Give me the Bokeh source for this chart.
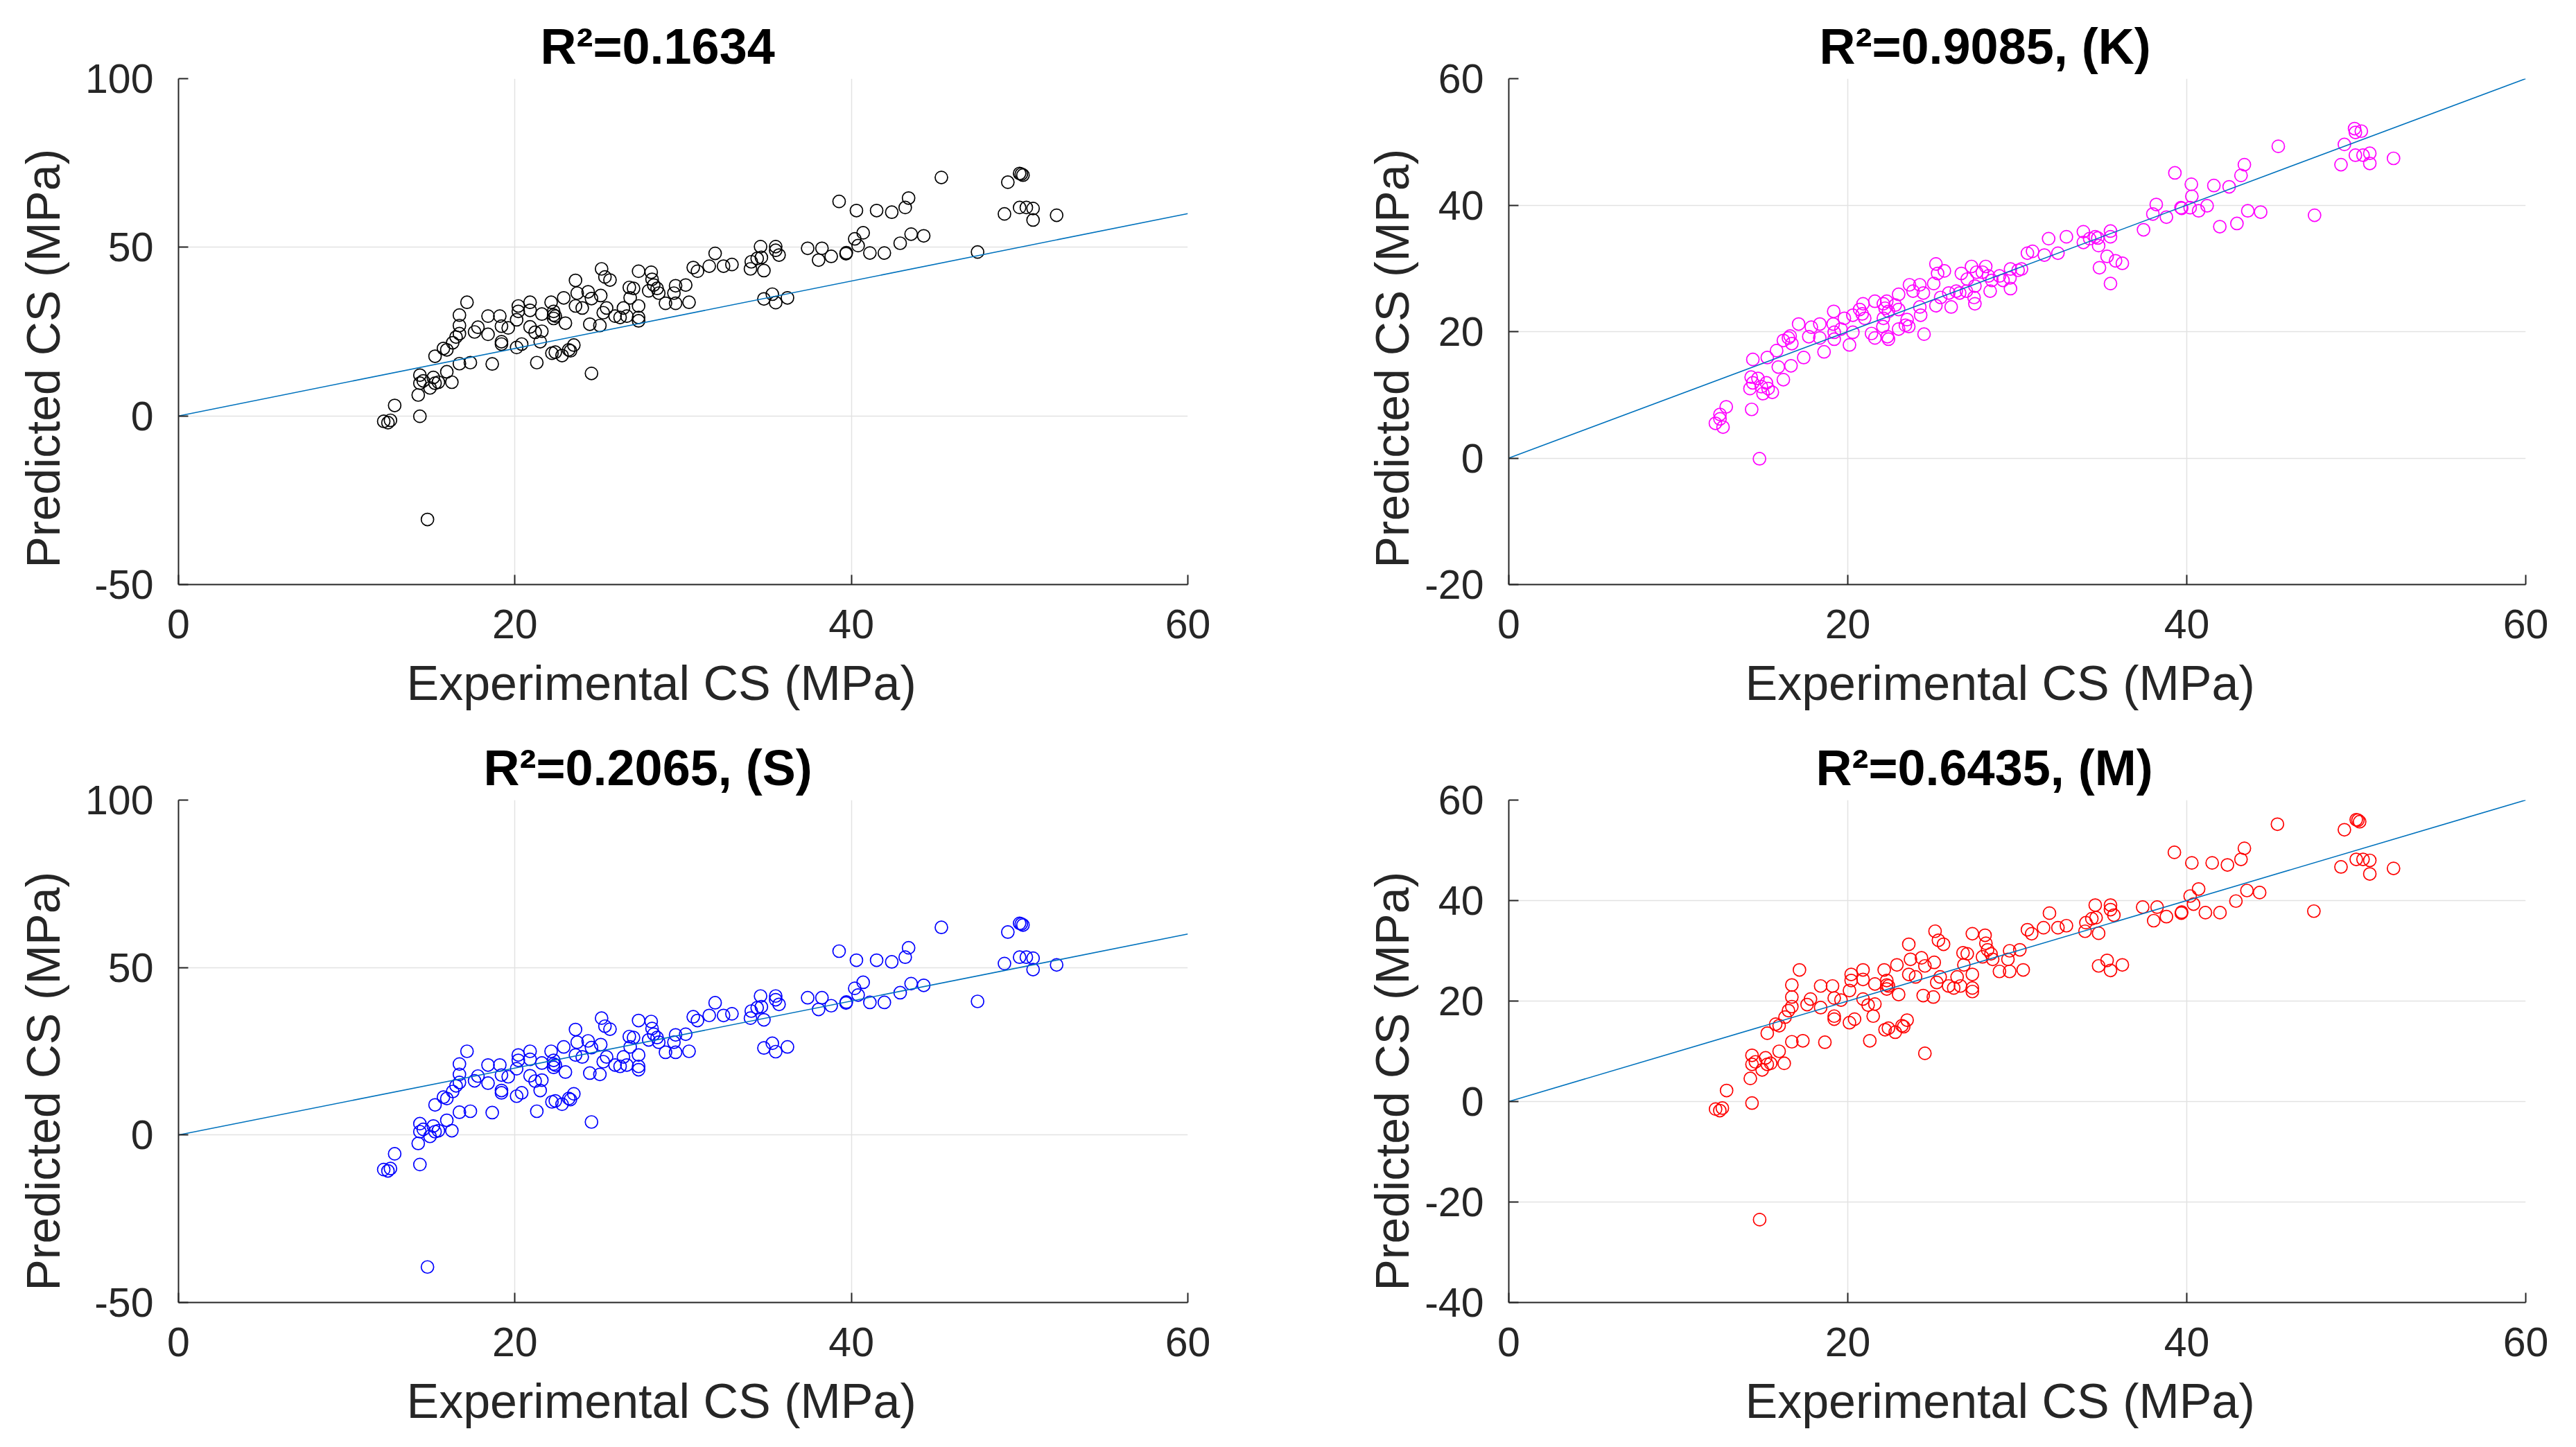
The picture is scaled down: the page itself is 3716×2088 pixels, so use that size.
from bokeh.plotting import figure
from bokeh.layouts import column, row
from bokeh.models import Range1d, FixedTicker, Title, ColumnDataSource
from bokeh.embed import file_html
from bokeh.resources import INLINE

# ---------------- data ----------------
# Experimental CS (MPa) for panels "base", (S) and (M)
exp_cs = [
    12.2, 12.45, 12.6, 12.85, 14.35, 14.25, 14.35, 14.35, 14.55, 14.95,
    15.15, 15.45, 15.25, 15.95, 16.25, 14.8, 15.25, 15.75, 15.95, 16.3,
    16.5, 16.7, 16.7, 16.7, 17.15, 16.7, 17.35, 17.6, 17.8, 18.4,
    18.4, 18.65, 19.1, 19.2, 19.2, 19.6, 19.2, 20.1, 20.4, 20.1,
    20.2, 20.2, 20.9, 20.9, 20.9, 21.2, 21.3, 21.5, 21.6, 21.6,
    22.15, 22.3, 22.3, 22.3, 22.4, 22.2, 22.4, 22.8, 23.0, 22.9,
    23.2, 23.5, 23.3, 23.6, 23.7, 23.6, 24.0, 24.35, 24.55, 24.45,
    24.55, 25.05, 25.1, 25.15, 25.35, 25.65, 25.45, 25.25, 25.95, 26.45,
    26.25, 26.65, 26.8, 27.05, 26.85, 27.35, 27.35, 27.35, 27.35, 28.1,
    28.15, 28.25, 28.45, 27.95, 28.55, 28.95, 29.55, 29.55, 29.45, 30.15,
    30.35, 30.6, 30.85, 31.55, 31.9, 32.4, 32.9, 34.0, 34.05, 34.4,
    34.6, 34.65, 34.8, 35.5, 35.5, 35.7, 34.8, 35.3, 35.5, 36.2,
    37.4, 38.25, 38.05, 38.8, 39.27, 39.7, 39.68, 40.2, 40.4, 40.7,
    40.3, 41.1, 41.5, 41.96, 42.4, 42.9, 43.2, 43.4, 43.55, 44.3,
    45.35, 47.5, 49.1, 49.3, 50.0, 50.0, 50.1, 50.2, 50.4, 50.8,
    50.8, 52.2,
]
pred_base = [
    -1.6, -2.0, -1.3, 3.1, -0.1, 6.2, 9.7, 12.1, 10.4, 8.3,
    11.4, 10.0, 9.7, 13.1, 10.0, -30.7, 17.7, 20.0, 19.6, 21.7,
    23.4, 24.4, 26.8, 29.9, 33.7, 15.5, 15.8, 24.9, 26.3, 29.6,
    24.2, 15.4, 29.6, 26.6, 21.3, 26.1, 22.0, 20.3, 21.3, 28.5,
    32.6, 31.0, 33.7, 31.3, 26.4, 24.8, 15.8, 22.0, 25.1, 30.2,
    33.7, 31.0, 29.9, 28.9, 29.6, 18.6, 18.9, 17.9, 27.5, 35.0,
    19.6, 21.0, 19.3, 40.2, 36.4, 32.6, 32.0, 36.8, 34.8, 27.2,
    12.6, 26.8, 35.7, 43.6, 41.2, 40.3, 32.0, 30.6, 29.6, 32.0,
    29.2, 29.6, 38.1, 37.8, 35.0, 42.9, 32.6, 29.2, 28.2, 42.6,
    40.5, 38.8, 37.8, 37.1, 36.4, 33.4, 38.6, 33.4, 36.4, 38.8,
    33.7, 44.0, 42.9, 44.4, 48.2, 44.4, 44.9, 43.6, 45.7, 46.7,
    50.2, 47.0, 43.1, 50.2, 49.1, 47.7, 34.7, 36.1, 33.6, 35.0,
    49.7, 49.7, 46.2, 47.3, 63.6, 48.4, 48.1, 52.5, 50.5, 54.3,
    60.9, 48.3, 60.9, 48.3, 60.4, 51.2, 61.8, 64.6, 53.9, 53.4,
    70.7, 48.6, 59.9, 69.3, 61.8, 71.9, 71.7, 71.4, 61.8, 61.5,
    58.1, 59.5,
]
pred_S = [
    -10.3, -10.7, -10.0, -5.6, -8.8, -2.5, 1.0, 3.4, 1.7, -0.4,
    2.7, 1.3, 1.0, 4.4, 1.3, -39.4, 9.0, 11.3, 10.9, 13.0,
    14.7, 15.7, 18.1, 21.2, 25.0, 6.8, 7.1, 16.2, 17.6, 20.9,
    15.5, 6.7, 20.9, 17.9, 12.6, 17.4, 13.3, 11.6, 12.6, 19.8,
    23.9, 22.3, 25.0, 22.6, 17.7, 16.1, 7.1, 13.3, 16.4, 21.5,
    25.0, 22.3, 21.2, 20.2, 20.9, 9.9, 10.2, 9.2, 18.8, 26.3,
    10.9, 12.3, 10.6, 31.5, 27.7, 23.9, 23.3, 28.1, 26.1, 18.5,
    3.9, 18.1, 27.0, 34.9, 32.5, 31.6, 23.3, 21.9, 20.9, 23.3,
    20.5, 20.9, 29.4, 29.1, 26.3, 34.2, 23.9, 20.5, 19.5, 33.9,
    31.8, 30.1, 29.1, 28.4, 27.7, 24.7, 29.9, 24.7, 27.7, 30.1,
    25.0, 35.3, 34.2, 35.7, 39.5, 35.7, 36.2, 34.9, 37.0, 38.0,
    41.5, 38.3, 34.4, 41.5, 40.4, 39.0, 26.0, 27.4, 24.9, 26.3,
    41.0, 41.0, 37.5, 38.6, 54.9, 39.7, 39.4, 43.8, 41.8, 45.6,
    52.2, 39.6, 52.2, 39.6, 51.7, 42.5, 53.1, 55.9, 45.2, 44.7,
    62.0, 39.9, 51.2, 60.6, 53.1, 63.2, 63.0, 62.7, 53.1, 52.8,
    49.4, 50.8,
]
pred_M = [
    -1.5, -1.8, -1.3, 2.2, -0.3, 4.6, 7.4, 9.2, 7.9, 6.3,
    8.7, 7.6, 7.4, 10.0, 7.6, -23.5, 13.6, 15.4, 15.1, 16.8,
    18.1, 18.9, 20.8, 23.2, 26.2, 11.9, 12.1, 19.3, 20.4, 23.0,
    18.7, 11.8, 23.0, 20.6, 16.4, 20.2, 17.0, 15.7, 16.4, 22.1,
    25.3, 24.1, 26.2, 24.3, 20.4, 19.2, 12.1, 17.0, 19.4, 23.4,
    26.2, 24.1, 23.2, 22.4, 23.0, 14.3, 14.6, 13.8, 21.3, 27.2,
    15.1, 16.2, 14.9, 31.3, 28.3, 25.3, 24.8, 28.6, 27.0, 21.1,
    9.6, 20.8, 27.7, 33.9, 32.1, 31.3, 24.8, 23.7, 23.0, 24.8,
    22.6, 23.0, 29.6, 29.4, 27.2, 33.4, 25.3, 22.6, 21.9, 33.1,
    31.5, 30.2, 29.4, 28.8, 28.3, 25.9, 30.0, 25.9, 28.3, 30.2,
    26.2, 34.2, 33.4, 34.6, 37.5, 34.6, 35.0, 33.9, 35.6, 36.4,
    39.1, 36.6, 33.5, 39.1, 38.2, 37.1, 27.0, 28.1, 26.1, 27.2,
    38.7, 38.7, 36.0, 36.8, 49.6, 37.7, 37.5, 40.9, 39.3, 42.3,
    47.5, 37.6, 47.5, 37.6, 47.1, 39.9, 48.2, 50.4, 42.0, 41.6,
    55.2, 37.9, 46.7, 54.1, 48.2, 56.1, 56.0, 55.7, 48.2, 48.0,
    45.3, 46.4,
]
# Experimental / predicted CS for panel (K)
exp_cs_K = [
    12.19, 12.46, 12.46, 12.64, 12.83, 14.33, 14.79, 14.4, 14.3, 14.23,
    14.4, 14.7, 14.9, 15.2, 15.0, 15.3, 15.55, 15.25, 15.8, 15.9,
    16.2, 16.65, 16.2, 16.5, 16.7, 16.6, 17.4, 17.1, 17.7, 17.85,
    18.35, 18.35, 18.6, 19.17, 19.14, 19.2, 19.2, 19.6, 19.8, 20.1,
    20.3, 20.3, 20.9, 20.85, 20.7, 21.0, 21.4, 21.6, 21.6, 22.1,
    22.2, 22.3, 22.4, 22.1, 22.07, 22.34, 22.4, 22.8, 23.0, 23.0,
    23.5, 23.4, 23.6, 23.0, 23.64, 23.85, 24.25, 24.46, 24.3, 24.25,
    24.5, 25.07, 25.2, 25.7, 25.3, 25.2, 25.48, 26.1, 25.96, 26.4,
    26.6, 27.0, 26.7, 27.05, 27.3, 27.5, 27.45, 27.5, 27.6, 27.94,
    28.14, 28.3, 28.5, 28.4, 28.95, 29.16, 29.57, 29.6, 29.6, 30.05,
    30.25, 30.6, 30.9, 31.6, 31.85, 32.4, 32.9, 33.9, 33.9, 34.27,
    34.6, 34.75, 34.8, 35.5, 35.5, 35.3, 35.8, 36.2, 34.85, 35.5,
    37.45, 38.0, 38.2, 38.8, 39.3, 39.66, 39.7, 40.2, 40.3, 40.27,
    40.7, 41.2, 41.6, 41.95, 42.5, 42.96, 43.2, 43.4, 43.6, 44.36,
    45.4, 47.54, 49.1, 49.3, 49.95, 49.9, 49.95, 50.3, 50.4, 50.8,
    50.8, 52.2,
]
pred_K = [
    5.5, 6.9, 6.2, 4.9, 8.1, 7.7, -0.1, 15.6, 12.8, 11.0,
    11.9, 12.6, 11.3, 11.9, 10.2, 11.0, 10.4, 15.9, 17.0, 14.4,
    12.4, 14.6, 18.6, 19.0, 18.1, 19.3, 15.9, 21.2, 19.2, 20.7,
    21.2, 19.0, 16.8, 23.2, 21.2, 19.9, 18.8, 20.4, 22.1, 17.9,
    22.6, 19.9, 24.4, 22.8, 23.5, 22.1, 19.7, 19.0, 24.8, 24.4,
    23.7, 24.8, 23.2, 22.1, 20.8, 19.2, 18.8, 24.2, 23.5, 25.9,
    21.9, 21.0, 20.8, 20.4, 27.4, 26.4, 27.4, 26.1, 22.6, 23.9,
    19.6, 27.6, 30.7, 29.6, 29.2, 24.1, 25.4, 23.9, 26.1, 26.4,
    26.1, 26.4, 29.2, 28.3, 30.3, 27.2, 25.4, 24.4, 29.4, 29.4,
    30.3, 28.8, 28.1, 26.4, 28.8, 28.1, 28.5, 29.9, 26.8, 29.7,
    29.9, 32.4, 32.7, 32.1, 34.7, 32.4, 35.0, 35.8, 34.1, 34.7,
    35.0, 34.8, 33.6, 35.9, 35.0, 31.9, 31.2, 30.8, 30.1, 27.6,
    36.1, 38.6, 40.1, 38.1, 45.1, 39.6, 39.5, 39.6, 41.4, 43.3,
    39.1, 39.9, 43.1, 36.6, 42.9, 37.1, 44.7, 46.4, 39.1, 38.9,
    49.3, 38.4, 46.4, 49.6, 47.9, 52.1, 51.5, 51.7, 47.9, 48.2,
    46.6, 47.4,
]
# 1:1 reference line end points
ref_x = [0, 60]
ref_y = [0, 60]

x_ticks = [0, 20, 40, 60]
titles = ["R\u00b2=0.1634", "R\u00b2=0.9085, (K)", "R\u00b2=0.2065, (S)", "R\u00b2=0.6435, (M)"]
y_ranges = [(-50, 100), (-20, 60), (-50, 100), (-40, 60)]
y_ticks = [[-50, 0, 50, 100], [-20, 0, 20, 40, 60], [-50, 0, 50, 100], [-40, -20, 0, 20, 40, 60]]
colors = ["#000000", "#FF00FF", "#0000FF", "#FF0000"]
x_label = "Experimental CS (MPa)"
y_label = "Predicted CS (MPa)"

FONT = "Liberation Sans"
AX = "#262626"


def make_panel(xs, ys, color, title, yr, yt, w, h, bl, br, bt, bb,
               title_off, xlab_off, ylab_off, ylab_standoff):
    n = min(len(xs), len(ys))
    p = figure(width=w, height=h, output_backend="svg", toolbar_location=None,
               x_range=Range1d(0, 60), y_range=Range1d(*yr),
               min_border_left=bl, min_border_right=br,
               min_border_top=bt, min_border_bottom=bb,
               title=Title(text=title, align="left", offset=title_off, standoff=14,
                           text_font=FONT, text_font_size="72px",
                           text_font_style="bold", text_color="#000000"))
    p.outline_line_color = None
    p.background_fill_color = "white"
    p.border_fill_color = "white"

    p.xaxis.ticker = FixedTicker(ticks=x_ticks)
    p.yaxis.ticker = FixedTicker(ticks=yt)
    p.xaxis.major_label_overrides = {t: str(t) for t in x_ticks}
    p.yaxis.major_label_overrides = {t: str(t) for t in yt}
    for ax in (p.xaxis[0], p.yaxis[0]):
        ax.major_tick_in = 14
        ax.major_tick_out = 0
        ax.minor_tick_line_color = None
        ax.axis_line_color = AX
        ax.axis_line_width = 2
        ax.major_tick_line_color = AX
        ax.major_tick_line_width = 2
        ax.major_label_text_font = FONT
        ax.major_label_text_font_size = "59px"
        ax.major_label_text_color = AX
    p.xaxis.major_label_standoff = 36
    p.yaxis.major_label_standoff = 36

    p.xgrid.grid_line_color = "#e2e2e2"
    p.ygrid.grid_line_color = "#e2e2e2"
    p.xgrid.grid_line_width = 1.5
    p.ygrid.grid_line_width = 1.5

    p.add_layout(Title(text=x_label, align="left", offset=xlab_off, standoff=42,
                       text_font=FONT, text_font_size="70px",
                       text_font_style="normal", text_color=AX), "below")
    p.add_layout(Title(text=y_label, align="left", offset=ylab_off, standoff=ylab_standoff,
                       text_font=FONT, text_font_size="68px",
                       text_font_style="normal", text_color=AX), "left")

    src = ColumnDataSource(dict(x=xs[:n], y=ys[:n]))
    p.scatter("x", "y", source=src, marker="circle", size=18,
              fill_color=None, line_color=color, line_width=1.7)
    p.line(ref_x, ref_y, line_color="#0072BD", line_width=1.6)
    return p


p1 = make_panel(exp_cs, pred_base, colors[0], titles[0], y_ranges[0], y_ticks[0],
                1850, 1058, 248, 137, 113, 215, 522, 329, 24, 42)
p2 = make_panel(exp_cs_K, pred_K, colors[1], titles[1], y_ranges[1], y_ticks[1],
                1850, 1058, 326, 57, 113, 215, 448, 341, 24, 14)
p3 = make_panel(exp_cs, pred_S, colors[2], titles[2], y_ranges[2], y_ticks[2],
                1850, 1034, 248, 137, 92, 213, 440, 329, 17, 42)
p4 = make_panel(exp_cs, pred_M, colors[3], titles[3], y_ranges[3], y_ticks[3],
                1850, 1034, 326, 57, 92, 213, 443, 341, 17, 14)

layout = column(row(p1, p2), row(p3, p4))
open("out.html", "w").write(file_html(layout, INLINE))
